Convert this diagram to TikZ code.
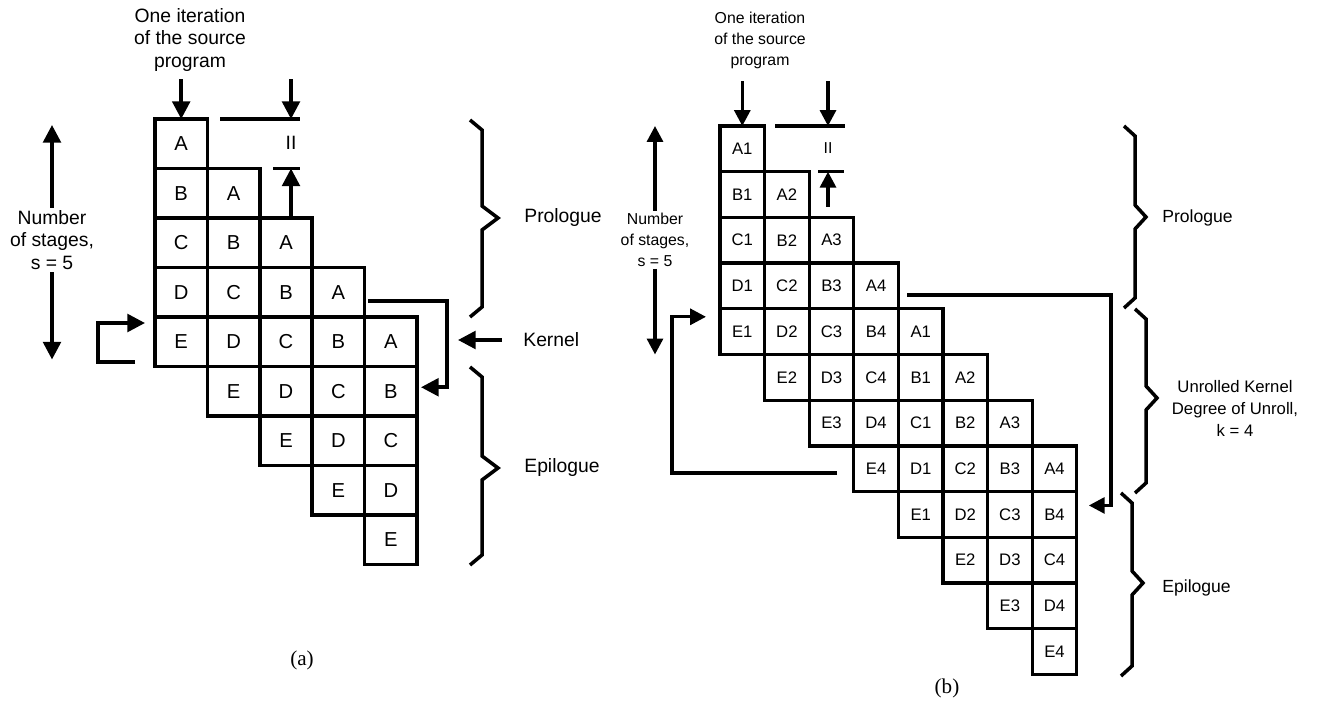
\documentclass[tikz,border=0pt]{standalone}
\usepackage{fontspec}
\setmainfont{Liberation Sans}
\newfontfamily\capserif{Liberation Serif}
\usetikzlibrary{arrows.meta,positioning,calc}
\newcommand{\stagename}[1]{\ifcase#1 A\or B\or C\or D\or E\fi}

\begin{document}
\begin{tikzpicture}[x=0.02cm, y=-0.02cm,
  cella/.style={draw, line width=2pt, minimum width=1.048cm, minimum height=0.99cm, inner sep=0pt, outer sep=0pt, font=\fontsize{11.5}{13}\selectfont},
  cellb/.style={draw, line width=1.9pt, minimum width=0.892cm, minimum height=0.914cm, inner sep=0pt, outer sep=0pt, font=\fontsize{9.5}{11}\selectfont},
  arra/.style={line width=2pt, -{Triangle[length=10pt,width=10pt]}},
  arrb/.style={line width=1.9pt, -{Triangle[length=9pt,width=9pt]}},
  bar/.style={line width=2pt},
  brace/.style={line width=2pt, line join=miter},
  lbla/.style={align=center, inner sep=1pt, font=\fontsize{11}{13}\selectfont},
  lblb/.style={align=center, inner sep=1pt, font=\fontsize{9}{12}\selectfont},
  side/.style={anchor=west, inner sep=0pt, font=\fontsize{11}{13}\selectfont}]
  \useasboundingbox (0,0) rectangle (1317,705);

  % (a) modulo schedule
  \foreach \r in {0,...,8}
    \foreach \c in {0,...,4}{
      \pgfmathtruncatemacro{\stg}{\r-\c}
      \ifnum\stg>-1 \ifnum\stg<5
        \node[cella] (a-\r-\c) at ({155+(\c+0.5)*52.4},{119+(\r+0.5)*49.5}) {\stagename{\stg}};
      \fi\fi
    }
  \node[lbla] (iter-a) at (190,40) {One iteration\\of the source\\program};
  \draw[arra, shorten <=3pt] (iter-a.south -| a-0-0) -- (a-0-0.north);
  \node[lbla] (ii-a) at (291,143) {II};
  \draw[bar] ($(ii-a |- a-0-0.north)+(-71,0)$) -- ++(80,0);
  \draw[bar] ($(ii-a |- a-1-1.north)+(-18,0)$) -- ++(27,0);
  \draw[arra, shorten <=3pt] (ii-a |- iter-a.south) -- (ii-a |- a-0-0.north);
  \draw[arra] (ii-a |- a-2-2.north) -- (ii-a |- a-1-1.north);
  \node[lbla] (stg-a) at (52,240) {Number\\of stages,\\s = 5};
  \draw[arra] (stg-a.north) -- ($(stg-a.north |- a-0-0.north)+(0,6)$);
  \draw[arra] (stg-a.south) -- ($(stg-a.south |- a-4-0.south)+(0,-7)$);
  \coordinate (loop-a) at (135,362);
  \draw[arra] (loop-a) -- ++(-37,0) |- ($(a-4-0.north west)+(-10,6)$);
  \coordinate (out-a) at (368,301);
  \draw[arra] (out-a) -- ++(79,0) |- ($(a-5-4.east)+(4,-4)$);
  \node[side] (kern-a) at (523,340) {Kernel};
  \draw[arra, shorten <=12pt] (kern-a.west) -- ++(-65,0);
  \node[side] (pro-a) at (524,218) {Prologue};
  \node[side] (epi-a) at (524,468) {Epilogue};
  \node[font=\capserif\fontsize{12}{14}\selectfont] (cap-a) at (302,660) {(a)};

  % (b) unrolled kernel
  \foreach \r in {0,...,11}
    \foreach \c in {0,...,7}{
      \pgfmathtruncatemacro{\stg}{\r-\c}
      \pgfmathtruncatemacro{\itn}{mod(\c,4)+1}
      \ifnum\stg>-1 \ifnum\stg<5
        \node[cellb] (b-\r-\c) at ({720+(\c+0.5)*44.6},{126+(\r+0.5)*45.7}) {\stagename{\stg}\itn};
      \fi\fi
    }
  \node[lblb] (iter-b) at (760,40) {One iteration\\of the source\\program};
  \draw[arrb, shorten <=6pt] (iter-b.south -| b-0-0) -- (b-0-0.north);
  \node[lblb] (ii-b) at (828,148) {II};
  \draw[bar] ($(ii-b |- b-0-0.north)+(-53,0)$) -- ++(70,0);
  \draw[bar] ($(ii-b |- b-1-1.north)+(-10,0)$) -- ++(26,0);
  \draw[arrb, shorten <=6pt] (ii-b |- iter-b.south) -- (ii-b |- b-0-0.north);
  \draw[arrb, shorten <=6pt] (ii-b |- b-2-2.north) -- (ii-b |- b-1-1.north);
  \node[lblb] (stg-b) at (655,240) {Number\\of stages,\\s = 5};
  \draw[arrb] (stg-b.north) -- (stg-b.north |- b-0-0.north);
  \draw[arrb] (stg-b.south) -- (stg-b.south |- b-4-0.south);
  \coordinate (loop-b) at (837,473);
  \draw[arrb] (loop-b) -- ++(-165,0) |- ($(b-4-0.north west)+(-14,8)$);
  \coordinate (out-b) at (907,295);
  \draw[arrb] (out-b) -- ++(204,0) |- ($(b-8-7.east)+(12,-9)$);
  \node[side, font=\fontsize{10}{12}\selectfont] (pro-b) at (1162,218) {Prologue};
  \node[lblb, font=\fontsize{9.5}{12.5}\selectfont] (unr-b) at (1235,408) {Unrolled Kernel\\Degree of Unroll,\\k = 4};
  \node[side, font=\fontsize{10}{12}\selectfont] (epi-b) at (1162,588) {Epilogue};
  \node[font=\capserif\fontsize{12}{14}\selectfont] (cap-b) at (947,688) {(b)};

  \foreach \bx/\bt/\bm/\bb/\bs/\bw in {470/120/218/317/12/28, 470/367/468/565/12/28,
      1124/126/217/308/11/22, 1135/309/398/493/11/22, 1121/493/583/676/11/22}
    \draw[brace] (\bx,\bt) -- ({\bx+\bs},{\bt+10}) -- ({\bx+\bs},{\bm-12}) -- ({\bx+\bw},\bm)
      -- ({\bx+\bs},{\bm+12}) -- ({\bx+\bs},{\bb-10}) -- (\bx,\bb);
\end{tikzpicture}
\end{document}
